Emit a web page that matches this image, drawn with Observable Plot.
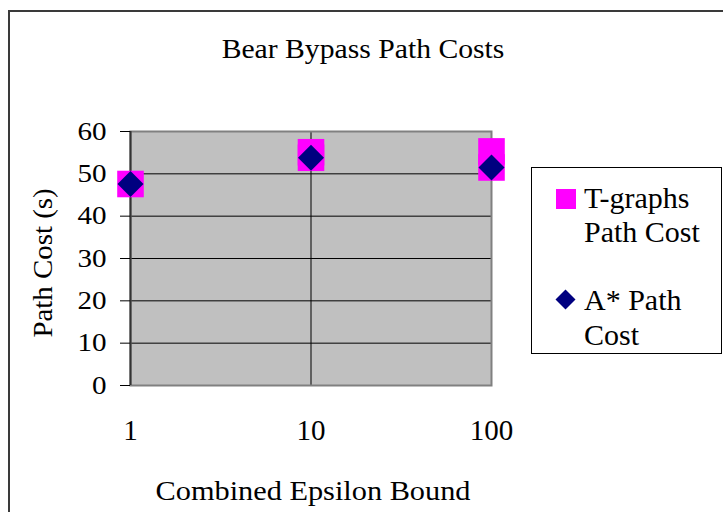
<!DOCTYPE html>
<html>
<head>
<meta charset="utf-8">
<script src="https://cdn.jsdelivr.net/npm/d3@7"></script>
<script src="https://cdn.jsdelivr.net/npm/@observablehq/plot@0.6"></script>
<style>
  html, body { margin: 0; padding: 0; background: #fff; }
  #wrap { position: relative; width: 723px; height: 512px; overflow: hidden; background: #fff; }
  #outer { position: absolute; left: 8px; top: 10px; width: 900px; height: 700px; border: 2px solid #3a3a3a; box-sizing: border-box; }
  #chart { position: absolute; left: 0; top: 0; }
  #legend { position: absolute; left: 531px; top: 167px; }
  text { font-family: "Liberation Serif", "Times New Roman", serif !important; }
</style>
</head>
<body>
<div id="wrap">
  <div id="outer"></div>
  <div id="chart"></div>
  <svg id="legend" width="192" height="188"></svg>
</div>
<script>
// ---- data ----
const title = "Bear Bypass Path Costs";
const xTitle = "Combined Epsilon Bound";
const yTitle = "Path Cost (s)";
const epsilonTicks = [1, 10, 100];
const costTicks = [0, 10, 20, 30, 40, 50, 60];
const tgraphsEpsilon = [1, 10, 10, 100, 100];
const tgraphsCost = [47.6, 55.1, 53.8, 55.3, 51.5];
const astarEpsilon = [1, 10, 100];
const astarCost = [47.6, 53.8, 51.5];
const seriesNames = ["T-graphs Path Cost", "A* Path Cost"];
const seriesLines = [["T-graphs", "Path Cost"], ["A* Path", "Cost"]];
const seriesColors = ["#ff00ff", "#000080"];

const tgraphs = tgraphsEpsilon.map((e, i) => ({eps: e, cost: tgraphsCost[i]}));
const astar = astarEpsilon.map((e, i) => ({eps: e, cost: astarCost[i]}));

const font = "Liberation Serif, Times New Roman, serif";

const chart = Plot.plot({
  width: 723,
  height: 512,
  marginLeft: 130,
  marginRight: 232,
  marginTop: 131,
  marginBottom: 127,
  style: {fontFamily: font, background: "transparent", color: "#000", overflow: "visible"},
  x: {type: "log", domain: [1, 100]},
  y: {domain: [0, 60]},
  marks: [
    Plot.frame({fill: "#c0c0c0", stroke: null}),
    Plot.gridY({ticks: costTicks.slice(1, -1), stroke: "#000", strokeOpacity: 1, strokeWidth: 1}),
    Plot.gridX({ticks: [10], stroke: "#000", strokeOpacity: 1, strokeWidth: 1}),
    Plot.frame({stroke: "#808080", strokeWidth: 2}),
    Plot.ruleX([1], {stroke: "#333", strokeWidth: 2}),
    Plot.axisY({ticks: costTicks, tickSize: 10, tickPadding: 14, fontSize: 26, label: null, stroke: "#000", fill: "#000"}),
    Plot.axisX({ticks: epsilonTicks, tickSize: 0, tickPadding: 34, fontSize: 29, label: null, tickFormat: d => String(d), fill: "#000"}),
    Plot.dot(tgraphs, {x: "eps", y: "cost", symbol: "square", r: 15, fill: seriesColors[0], stroke: null}),
    Plot.dot(astar, {x: "eps", y: "cost", symbol: "diamond2", r: 11.7, fill: seriesColors[1], stroke: null}),
    Plot.text([xTitle], {frameAnchor: "bottom", textAnchor: "middle", lineAnchor: "middle", dx: 2, dy: 106, fontSize: 26.6, fill: "#000"}),
    Plot.text([yTitle], {frameAnchor: "left", textAnchor: "middle", lineAnchor: "middle", rotate: -90, dx: -87, dy: 4.5, fontSize: 27, fill: "#000"}),
    Plot.text([title], {frameAnchor: "top", textAnchor: "middle", lineAnchor: "middle", dx: 52, dy: -82.7, fontSize: 28, fill: "#000"})
  ]
});
document.getElementById("chart").appendChild(chart);

const stretchFor = new Map([[xTitle, 1.14], [yTitle, 1.07], [title, 1.06]]);
costTicks.forEach(t => stretchFor.set(String(t), 1.12));
d3.select(chart).selectAll("text").each(function() {
  const txt = this.textContent;
  const isYTick = this.parentNode && this.parentNode.getAttribute("aria-label") === "y-axis tick label";
  const s = isYTick ? 1.12 : (stretchFor.has(txt) && !costTicks.map(String).includes(txt) ? stretchFor.get(txt) : null);
  if (s) {
    const t = this.getAttribute("transform") || "";
    this.setAttribute("transform", `${t} scale(${s},1)`);
  }
  this.style.fontFamily = font;
});

// ---- legend ----
const lg = d3.select("#legend");
lg.append("rect").attr("x", 0.5).attr("y", 0.5).attr("width", 190).attr("height", 186)
  .attr("fill", "#fff").attr("stroke", "#000").attr("stroke-width", 1);
lg.append("rect").attr("x", 25).attr("y", 22).attr("width", 20).attr("height", 20).attr("fill", seriesColors[0]);
lg.append("path").attr("d", "M34.5,122.5 L44.5,132.5 L34.5,142.5 L24.5,132.5 Z").attr("fill", seriesColors[1]);
const baselines = [[41.3, 75], [143, 178]];
seriesLines.forEach((lines, i) => {
  lines.forEach((ln, j) => {
    lg.append("text").attr("x", 53).attr("y", baselines[i][j]).attr("font-size", 30)
      .attr("fill", "#000").style("font-family", font).text(ln);
  });
});
</script>
</body>
</html>
